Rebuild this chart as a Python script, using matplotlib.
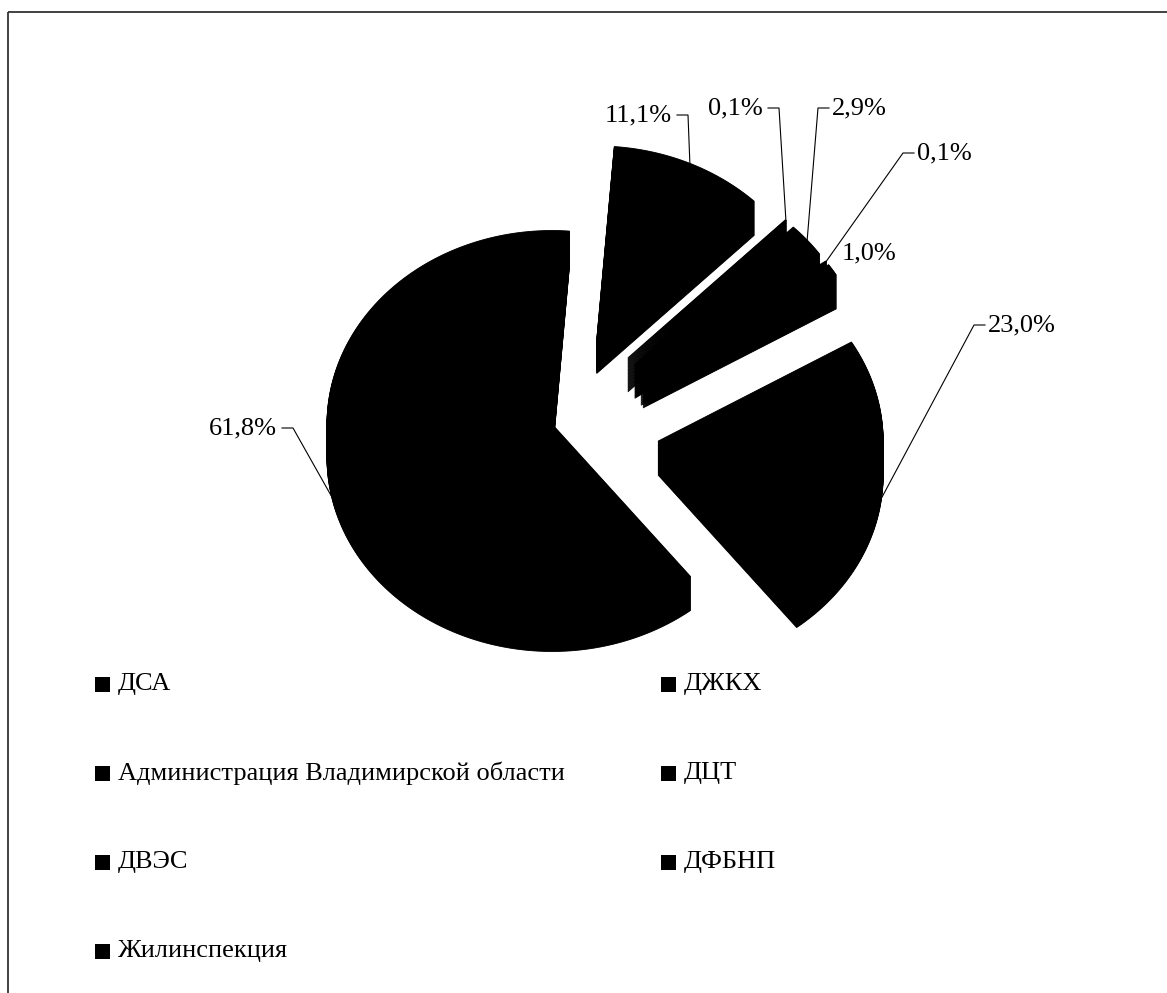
import numpy as np
import matplotlib
matplotlib.use("Agg")
import matplotlib.pyplot as plt
from matplotlib.patches import Rectangle

plt.rcParams['font.family'] = ['Liberation Serif', 'DejaVu Serif']

# доли (в %), порядок как в легенде
categories = ["ДСА", "ДЖКХ", "Администрация Владимирской области", "ДЦТ",
              "ДВЭС", "ДФБНП", "Жилинспекция"]
shares = [61.8, 11.1, 0.1, 2.9, 0.1, 1.0, 23.0]
exploded = [0, 1, 1, 1, 1, 1, 1]

# подписи данных: x, y, выравнивание, есть ли выноска
label_pos = [(277, 428, 'right', True), (672, 115, 'right', True),
             (763, 108, 'right', True), (832, 108, 'left', True),
             (917, 153, 'left', True), (842, 253, 'left', False),
             (988, 325, 'left', True)]

W, H = 1167, 993
FS = 19
fig = plt.figure(figsize=(W / 100, H / 100), dpi=100)
ax = fig.add_axes([0, 0, 1, 1])
ax.set_xlim(0, W)
ax.set_ylim(H, 0)
ax.axis('off')

# рамка области диаграммы (правый и нижний край обрезаны)
ax.add_patch(Rectangle((8, 12), W + 20, H + 20, fill=False,
                       edgecolor='#333333', lw=1.3))

# объёмная круговая диаграмма, вид сверху под углом
cx, cy = 552, 424
R = 225
k = 0.86          # сжатие по вертикали
depth = 34        # толщина
explode_dist = 108
start = 142.0     # угол первого сектора, по часовой от 12 часов

angles = np.cumsum([0] + [s * 3.6 for s in shares]) + start
rims = []
for i, s in enumerate(shares):
    a1, a2 = angles[i], angles[i + 1]
    mid = np.radians((a1 + a2) / 2)
    d = explode_dist * exploded[i]
    vx = cx + d * np.sin(mid)
    vy = cy - d * np.cos(mid) * k
    th = np.radians(np.linspace(a1, a2, max(3, int(abs(a2 - a1) * 2))))
    xs = np.concatenate([[vx], vx + R * np.sin(th), [vx]])
    ys = np.concatenate([[vy], vy - R * np.cos(th) * k, [vy]])
    for dy in np.linspace(0, depth, 45):
        ax.fill(xs, ys + dy, facecolor='black', edgecolor='black', lw=0.6)
    rx = vx + R * np.sin(mid)
    ry = vy - R * np.cos(mid) * k
    if np.cos(mid) < 0:
        ry += depth * 0.75
    rims.append((rx, ry))

for i, s in enumerate(shares):
    tx, ty, ha, leader = label_pos[i]
    txt = f"{s:.1f}%".replace('.', ',')
    ax.text(tx, ty, txt, ha=ha, va='center', fontsize=FS, color='black')
    if leader:
        rx, ry = rims[i]
        if ha == 'right':
            ex = tx + 16
            ax.plot([tx + 5, ex, rx], [ty, ty, ry], color='black', lw=0.8)
        else:
            ex = tx - 14
            ax.plot([tx - 3, ex, rx], [ty, ty, ry], color='black', lw=0.8)

# легенда: два столбца, заполнение по строкам
col_x = [95, 661]
row_y = [684, 773, 862, 951]
for i, name in enumerate(categories):
    x = col_x[i % 2]
    y = row_y[i // 2]
    ax.add_patch(Rectangle((x, y - 7.5), 15, 15, color='black', lw=0))
    ax.text(x + 23, y, name, ha='left', va='center', fontsize=FS, color='black')

fig.savefig("out.png", dpi=100)
